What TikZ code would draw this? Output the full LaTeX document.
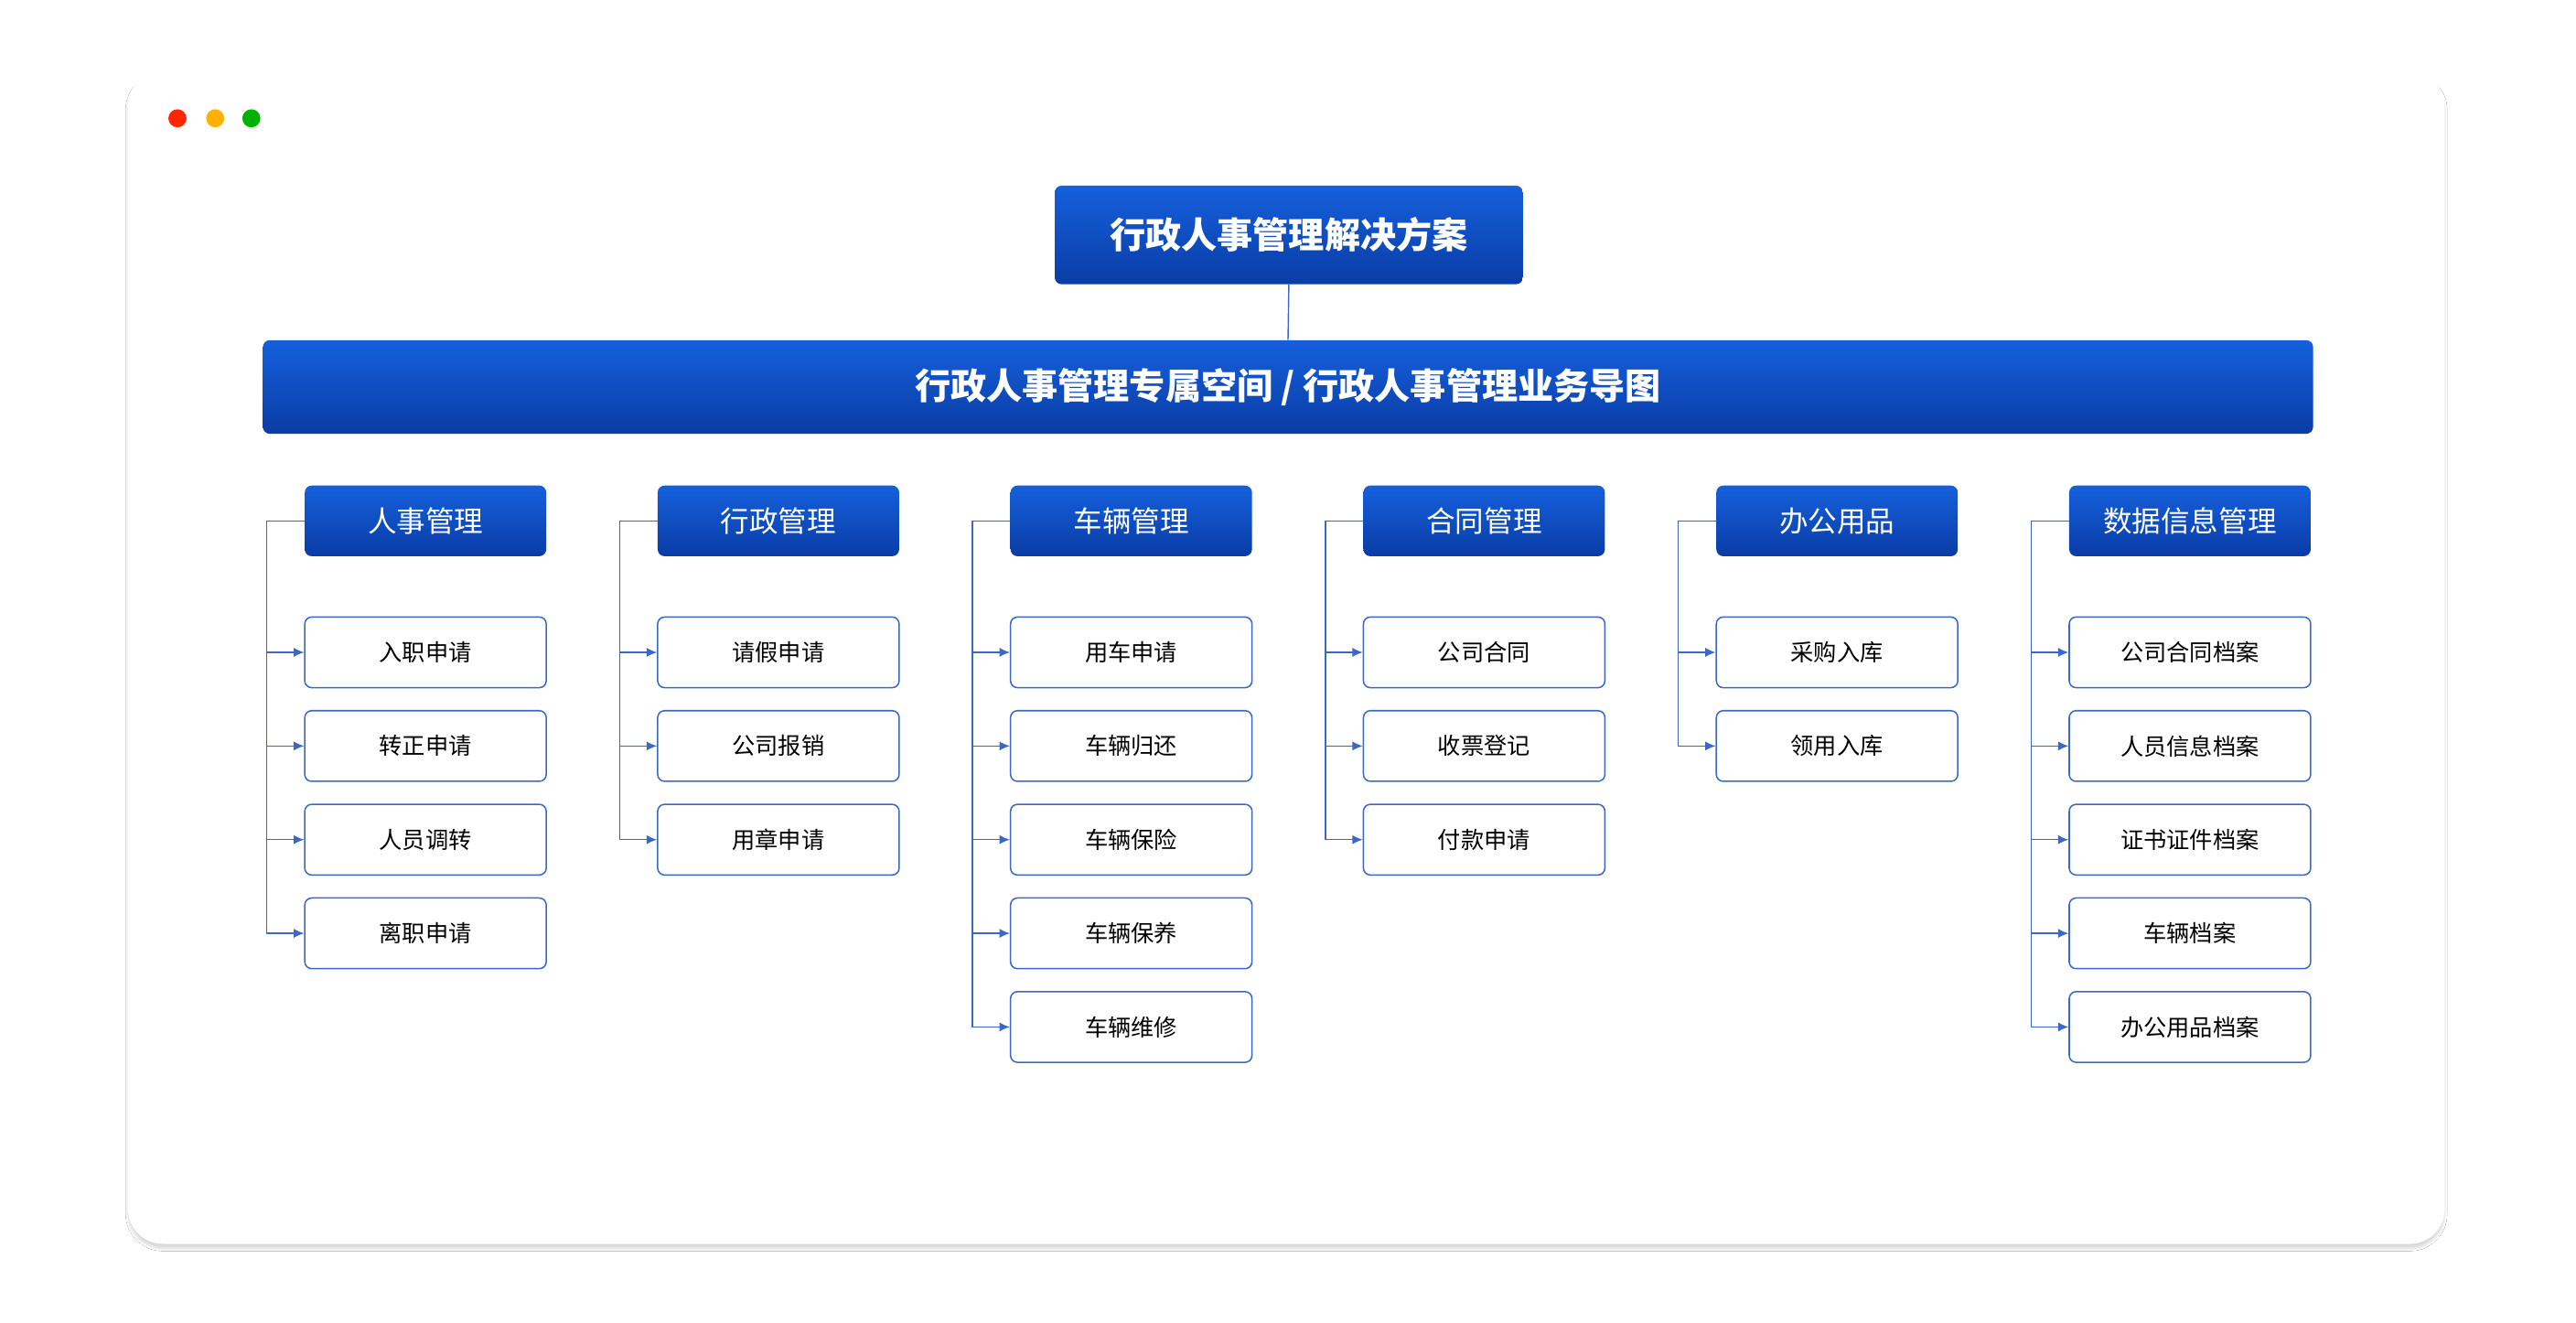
\documentclass[tikz,border=0pt]{standalone}
\usepackage{fontspec}
\setmainfont{Noto Sans CJK SC}
\usetikzlibrary{arrows.meta}
\usetikzlibrary{shadows.blur}
\definecolor{bluetop}{HTML}{1560DC}
\definecolor{bluebot}{HTML}{0A3CA6}
\definecolor{lineblue}{HTML}{3B67C9}
\tikzset{
  bluebox/.style={rounded corners=6pt, top color=bluetop, bottom color=bluebot, draw=none, text=white},
  headbox/.style={bluebox, minimum width=7.35cm, minimum height=2.15cm, font=\fontsize{25}{25}\selectfont},
  kidbox/.style={rounded corners=6pt, draw=lineblue, line width=1.2pt, fill=white, minimum width=7.35cm, minimum height=2.15cm, font=\fontsize{20}{20}\selectfont},
  arr/.style={draw=lineblue, line width=1.1pt, -{Latex[length=9pt,width=8pt]}},
}
\begin{document}
\begin{tikzpicture}[x=0.05cm,y=-0.05cm]
    \useasboundingbox (0,0) rectangle (1568,805);
    \fill[white] (0,0) rectangle (1568,805);
    % card
    \fill[white, rounded corners=30pt, blur shadow={shadow blur steps=10, shadow xshift=0pt, shadow yshift=-4pt, shadow opacity=15}] (78,43) rectangle (1488,757);
    \fill[red!70!orange] (108,72) circle (5.5);
    \fill[orange!60!yellow] (131,72) circle (5.5);
    \fill[green!70!black] (153,72) circle (5.5);

    % title and band
    \node[bluebox, minimum width=14.25cm, minimum height=3cm, font=\fontsize{31}{31}\selectfont\bfseries] (title) at (784.5,143) {行政人事管理解决方案};
    \node[bluebox, minimum width=62.4cm, minimum height=2.85cm, font=\fontsize{31}{31}\selectfont\bfseries] (band) at (784,235.5) {行政人事管理专属空间 / 行政人事管理业务导图};
    \draw[lineblue, line width=1.1pt] (title.south) -- (band.north);

    % columns
    \foreach \i/\hd/\kids in {
        1/人事管理/{入职申请,转正申请,人员调转,离职申请},
        2/行政管理/{请假申请,公司报销,用章申请},
        3/车辆管理/{用车申请,车辆归还,车辆保险,车辆保养,车辆维修},
        4/合同管理/{公司合同,收票登记,付款申请},
        5/办公用品/{采购入库,领用入库},
        6/数据信息管理/{公司合同档案,人员信息档案,证书证件档案,车辆档案,办公用品档案}} {
      \pgfmathsetmacro\cx{44.2+\i*214.8}
      \node[headbox] (h\i) at (\cx,317) {\hd};
      \coordinate (t\i) at ([xshift=-1.15cm]h\i.west);
      \foreach \k [count=\j] in \kids {
        \node[kidbox] (k\i-\j) at (\cx,{340+57*\j}) {\k};
        \draw[arr] (h\i.west) -- (t\i) |- (k\i-\j.west);
      }
    }
\end{tikzpicture}
\end{document}
